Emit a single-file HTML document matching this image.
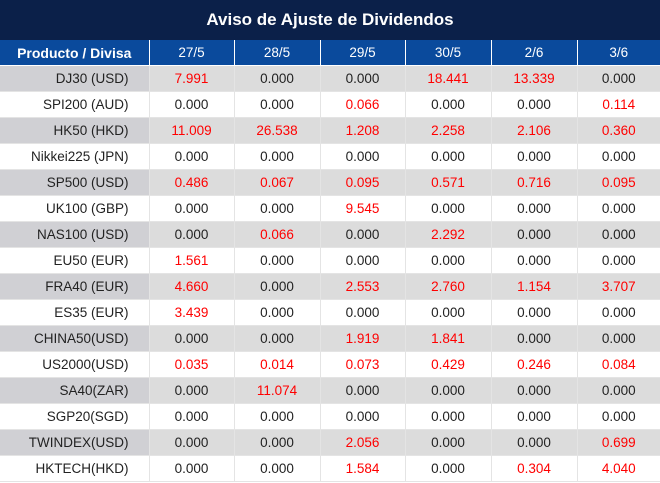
<!DOCTYPE html>
<html><head><meta charset="utf-8"><style>
body{margin:0;width:660px;height:483px;background:#fff;font-family:"Liberation Sans",sans-serif;overflow:hidden}
.t{height:40px;background:#0b2049;color:#fff;font-weight:bold;font-size:17px;text-align:center;line-height:40px}
table{border-collapse:collapse;width:660px;table-layout:fixed}
td{height:25px;padding:0;border:1px solid #e4e4e4;font-size:13.5px;text-align:center;color:#222}
tr.h td{background:#0a4a9c;color:#fff;height:25px;border-color:#fff;border-top:none}
tr.h td:first-child{font-weight:bold;font-size:14px}
td:first-child{text-align:right;padding-right:20px;border-left:none}
td:last-child{border-right:none}
tr.g td{background:#dcdcdc}
tr.g td:first-child{background:#d0d0d4}
.r{color:#f00}
</style></head><body>
<div class="t">Aviso de Ajuste de Dividendos</div>
<table>
<colgroup><col style="width:149px"><col style="width:85px"><col style="width:86px"><col style="width:85px"><col style="width:86px"><col style="width:86px"><col style="width:83px"></colgroup>
<tr class="h"><td style="text-align:center;padding:0">Producto / Divisa</td><td>27/5</td><td>28/5</td><td>29/5</td><td>30/5</td><td>2/6</td><td>3/6</td></tr>
<tr class="g"><td>DJ30 (USD)</td><td class="r">7.991</td><td>0.000</td><td>0.000</td><td class="r">18.441</td><td class="r">13.339</td><td>0.000</td></tr>
<tr><td>SPI200 (AUD)</td><td>0.000</td><td>0.000</td><td class="r">0.066</td><td>0.000</td><td>0.000</td><td class="r">0.114</td></tr>
<tr class="g"><td>HK50 (HKD)</td><td class="r">11.009</td><td class="r">26.538</td><td class="r">1.208</td><td class="r">2.258</td><td class="r">2.106</td><td class="r">0.360</td></tr>
<tr><td>Nikkei225 (JPN)</td><td>0.000</td><td>0.000</td><td>0.000</td><td>0.000</td><td>0.000</td><td>0.000</td></tr>
<tr class="g"><td>SP500 (USD)</td><td class="r">0.486</td><td class="r">0.067</td><td class="r">0.095</td><td class="r">0.571</td><td class="r">0.716</td><td class="r">0.095</td></tr>
<tr><td>UK100 (GBP)</td><td>0.000</td><td>0.000</td><td class="r">9.545</td><td>0.000</td><td>0.000</td><td>0.000</td></tr>
<tr class="g"><td>NAS100 (USD)</td><td>0.000</td><td class="r">0.066</td><td>0.000</td><td class="r">2.292</td><td>0.000</td><td>0.000</td></tr>
<tr><td>EU50 (EUR)</td><td class="r">1.561</td><td>0.000</td><td>0.000</td><td>0.000</td><td>0.000</td><td>0.000</td></tr>
<tr class="g"><td>FRA40 (EUR)</td><td class="r">4.660</td><td>0.000</td><td class="r">2.553</td><td class="r">2.760</td><td class="r">1.154</td><td class="r">3.707</td></tr>
<tr><td>ES35 (EUR)</td><td class="r">3.439</td><td>0.000</td><td>0.000</td><td>0.000</td><td>0.000</td><td>0.000</td></tr>
<tr class="g"><td>CHINA50(USD)</td><td>0.000</td><td>0.000</td><td class="r">1.919</td><td class="r">1.841</td><td>0.000</td><td>0.000</td></tr>
<tr><td>US2000(USD)</td><td class="r">0.035</td><td class="r">0.014</td><td class="r">0.073</td><td class="r">0.429</td><td class="r">0.246</td><td class="r">0.084</td></tr>
<tr class="g"><td>SA40(ZAR)</td><td>0.000</td><td class="r">11.074</td><td>0.000</td><td>0.000</td><td>0.000</td><td>0.000</td></tr>
<tr><td>SGP20(SGD)</td><td>0.000</td><td>0.000</td><td>0.000</td><td>0.000</td><td>0.000</td><td>0.000</td></tr>
<tr class="g"><td>TWINDEX(USD)</td><td>0.000</td><td>0.000</td><td class="r">2.056</td><td>0.000</td><td>0.000</td><td class="r">0.699</td></tr>
<tr><td>HKTECH(HKD)</td><td>0.000</td><td>0.000</td><td class="r">1.584</td><td>0.000</td><td class="r">0.304</td><td class="r">4.040</td></tr>
</table>
</body></html>
